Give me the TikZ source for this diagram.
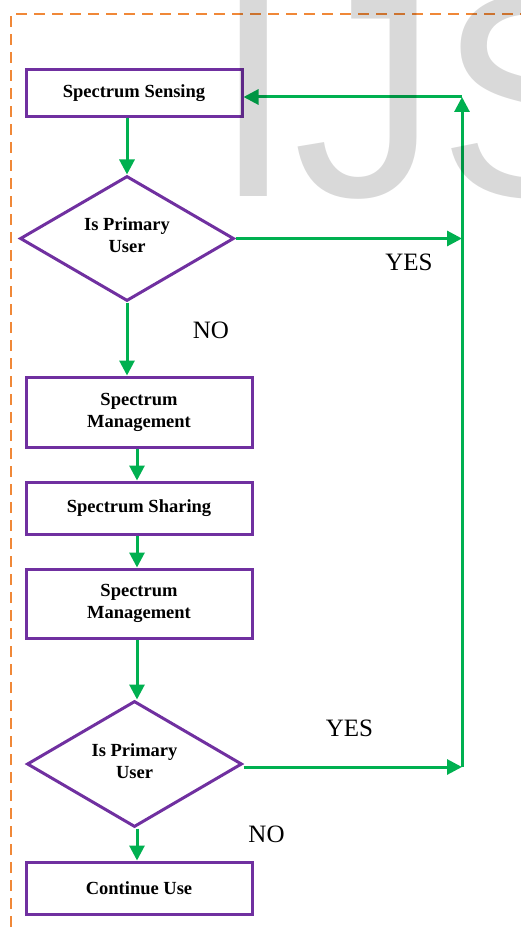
\documentclass[tikz,border=0pt]{standalone}
\usepackage{fontspec}
\setmainfont{Liberation Serif}
\newfontfamily\wmfont{Liberation Sans}
\usetikzlibrary{shapes.geometric,arrows.meta}
\definecolor{boxpurple}{HTML}{7030A0}
\definecolor{arrgreen}{HTML}{00B050}
\definecolor{dashorange}{HTML}{F08838}
\begin{document}
\begin{tikzpicture}[x=1pt,y=-1pt,
 box/.style={draw=boxpurple,line width=3pt,rectangle,inner sep=0pt,align=center,font=\fontsize{18.5}{22}\selectfont\bfseries},
 dia/.style={draw=boxpurple,line width=3pt,diamond,aspect=1.7,inner sep=0pt},
 diatext/.style={align=center,font=\fontsize{18.5}{22}\selectfont\bfseries,inner sep=0pt},
 flow/.style={draw=arrgreen,line width=3pt,-{Triangle[length=15pt,width=15pt]}},
 lbl/.style={font=\fontsize{25}{30}\selectfont,anchor=base,inner sep=0pt}]
\useasboundingbox (0,0) rectangle (520,933);
% frame
\draw[draw=dashorange,line width=2.8pt,dash pattern=on 11pt off 7pt] (11,945) -- (11,14) -- (535,14);
% nodes
\node[box,minimum width=216pt,minimum height=47pt] (ss) at (134,93.5) {Spectrum Sensing};
\node[dia,minimum width=214pt,minimum height=125pt] (d1) at (127,238.5) {};
\node[diatext] (d1t) at (127,235) {Is Primary\\User};
\node[box,minimum width=226pt,minimum height=70pt] (sm1) at (139,412) {Spectrum\\Management};
\node[box,minimum width=226pt,minimum height=52pt] (sh) at (139,508) {Spectrum Sharing};
\node[box,minimum width=226pt,minimum height=69pt] (sm2) at (139,603.5) {Spectrum\\Management};
\node[dia,minimum width=215pt,minimum height=126pt] (d2) at (134.5,764) {};
\node[diatext] (d2t) at (134.5,761) {Is Primary\\User};
\node[box,minimum width=226pt,minimum height=52pt] (cu) at (139,888) {Continue Use};
\coordinate (r1) at (462,238.5);
\coordinate (r2) at (462,767);
\coordinate (rt) at (462,97);
% connectors
\draw[flow] (d1.north |- ss.south) -- (d1.north);
\draw[flow] (d1.south) -- (d1.south |- sm1.north);
\draw[flow] ([xshift=-2pt]sm1.south) -- ([xshift=-2pt]sh.north);
\draw[flow] ([xshift=-2pt]sh.south) -- ([xshift=-2pt]sm2.north);
\draw[flow] ([xshift=-2pt]sm2.south) -- ([xshift=-2pt]sm2.south |- d2.north);
\draw[flow] ([xshift=2.5pt]d2.south) -- ([xshift=2.5pt]d2.south |- cu.north);
\draw[flow] (d1.east) -- (r1);
\draw[flow] (d2.east |- r2) -- (r2);
\draw[flow] (r2) -- (rt);
\draw[flow] (rt) -- (ss.east |- rt);
% labels
\node[lbl] (yes1) at (409,270) {YES};
\node[lbl] (no1) at (211,338) {NO};
\node[lbl] (yes2) at (349.5,736) {YES};
\node[lbl] (no2) at (266.5,842) {NO};
% watermark
\node[anchor=base west,inner sep=0pt,text depth=0pt,font=\wmfont\fontsize{290}{290}\selectfont,text=black,text opacity=0.15] (wm) at (213,197) {IJS};
\end{tikzpicture}
\end{document}
